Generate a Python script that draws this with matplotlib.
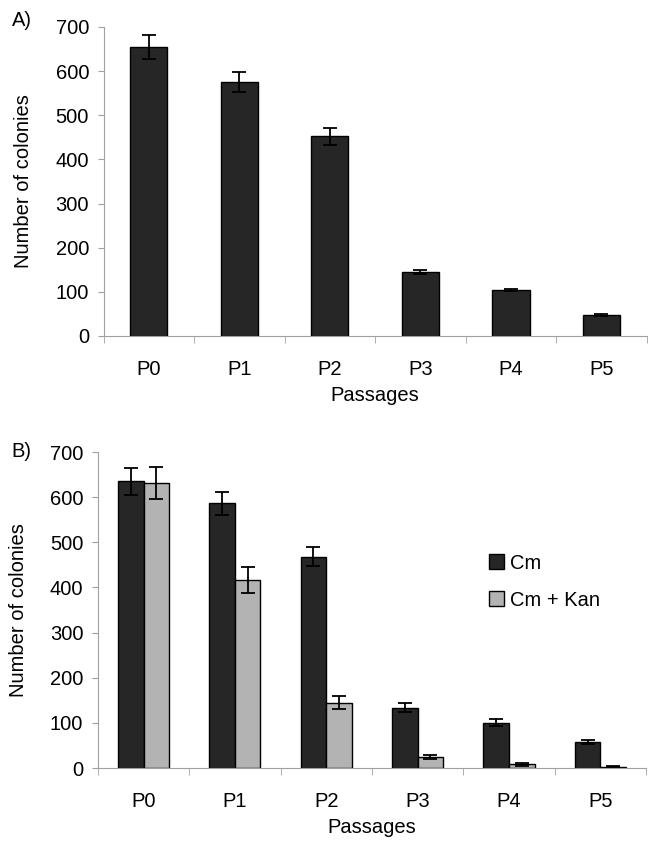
import numpy as np
import matplotlib
matplotlib.use("Agg")
import matplotlib.pyplot as plt

plt.rcParams["font.family"] = ["Liberation Sans", "DejaVu Sans"]

passages = ["P0", "P1", "P2", "P3", "P4", "P5"]

# panel A
colonies_a = [655, 575, 452, 145, 104, 47]
err_a = [27, 23, 19, 5, 3, 2]

# panel B
cm = [635, 586, 468, 134, 100, 58]
cm_err = [30, 25, 21, 11, 8, 5]
cm_kan = [631, 417, 145, 24, 8, 3]
cm_kan_err = [35, 29, 15, 5, 3, 1]

DARK = "#262626"
LIGHT = "#b3b3b3"
GREY = "#a0a0a0"
FS = 14.5


def style_axes(ax, n):
    ax.set_xlim(-0.5, n - 0.5)
    ax.set_ylim(0, 700)
    ax.set_yticks(range(0, 701, 100))
    ax.set_xticks(range(n))
    ax.set_xticklabels(passages)
    ax.set_xticks(np.arange(-0.5, n, 1.0), minor=True)
    ax.tick_params(axis="x", which="major", length=0, pad=17, labelsize=FS)
    ax.tick_params(axis="x", which="minor", length=5, color=GREY, direction="out")
    ax.tick_params(axis="y", length=4.5, color=GREY, direction="out", labelsize=FS, pad=6)
    for s in ["top", "right"]:
        ax.spines[s].set_visible(False)
    ax.spines["left"].set_color(GREY)
    ax.spines["bottom"].set_color(GREY)
    ax.set_ylabel("Number of colonies", fontsize=FS, labelpad=16)
    ax.set_xlabel("Passages", fontsize=FS, labelpad=5)


fig = plt.figure(figsize=(6.48, 8.41), dpi=100)

ax1 = fig.add_axes([0.16, 0.6005, 0.838, 0.3675])
x = np.arange(len(passages))
ax1.bar(x, colonies_a, width=0.41, color=DARK, edgecolor="black", linewidth=1.0,
        yerr=err_a, capsize=5, error_kw={"elinewidth": 1.3, "capthick": 1.3, "ecolor": "black"})
style_axes(ax1, len(passages))
fig.text(0.018, 0.987, "A)", fontsize=FS, va="top")

ax2 = fig.add_axes([0.151, 0.0868, 0.846, 0.3757])
w = 0.28
ax2.bar(x - w / 2, cm, width=w, color=DARK, edgecolor="black", linewidth=1.0,
        yerr=cm_err, capsize=5, error_kw={"elinewidth": 1.3, "capthick": 1.3, "ecolor": "black"},
        label="Cm")
ax2.bar(x + w / 2, cm_kan, width=w, color=LIGHT, edgecolor="black", linewidth=1.0,
        yerr=cm_kan_err, capsize=5, error_kw={"elinewidth": 1.3, "capthick": 1.3, "ecolor": "black"},
        label="Cm + Kan")
style_axes(ax2, len(passages))
ax2.legend(loc="center left", bbox_to_anchor=(0.68, 0.59), frameon=False, fontsize=FS,
           handlelength=0.75, handleheight=0.75, labelspacing=0.9, handletextpad=0.3)
fig.text(0.018, 0.475, "B)", fontsize=FS, va="top")

fig.savefig("out.png", dpi=100)
